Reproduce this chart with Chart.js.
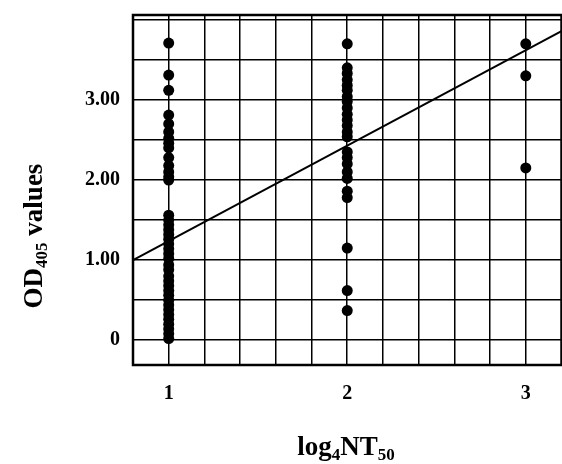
<!DOCTYPE html>
<html>
<head>
<meta charset="utf-8">
<script src="https://cdn.jsdelivr.net/npm/chart.js@4.4.1/dist/chart.umd.min.js"></script>
<style>
  html, body { margin: 0; padding: 0; background: #fff; overflow: hidden; }
  canvas { display: block; }
</style>
</head>
<body>
<canvas id="c" width="564" height="464"></canvas>
<script>
// ---- data ----
const groupX = [1, 2, 3];
const group1Values = [3.71, 3.31, 3.12, 2.81, 2.70, 2.60, 2.52, 2.46, 2.40, 2.28, 2.18, 2.10, 2.04, 2.00,
  1.56, 1.50, 1.44, 1.38, 1.32, 1.26, 1.20, 1.14, 1.08, 1.02, 0.94, 0.88, 0.80, 0.74, 0.68, 0.62,
  0.56, 0.50, 0.44, 0.38, 0.32, 0.26, 0.20, 0.14, 0.08, 0.02];
const group2Values = [3.70, 3.40, 3.33, 3.25, 3.18, 3.12, 3.04, 2.98, 2.90, 2.82, 2.75, 2.68, 2.60, 2.54,
  2.35, 2.28, 2.20, 2.10, 2.02, 1.86, 1.78, 1.15, 0.62, 0.37];
const group3Values = [3.70, 3.30, 2.15];
const fitLineX = [0.8, 3.2];
const fitLineY = [1.00, 3.86];
const xTickValues = [1, 2, 3];
const xTickLabels = ["1", "2", "3"];
const yTickValues = [0, 1, 2, 3];
const yTickLabels = ["0", "1.00", "2.00", "3.00"];
const xAxisTitle = [["log", false], ["4", true], ["NT", false], ["50", true]];
const yAxisTitle = [["OD", false], ["405", true], [" values", false]];

const FONT = "'Liberation Serif', 'Times New Roman', serif";

function toPoints(x, vals) { return vals.map(v => ({ x: x, y: v })); }
const allGroups = [group1Values, group2Values, group3Values];
const scatterPoints = [];
allGroups.forEach((vals, i) => scatterPoints.push(...toPoints(groupX[i], vals)));
const fitPoints = fitLineX.map((x, i) => ({ x: x, y: fitLineY[i] }));

function labelFor(values, labels, v) {
  for (let i = 0; i < values.length; i++) if (Math.abs(values[i] - v) < 1e-6) return labels[i];
  return "";
}

function drawRichText(ctx, parts, size, subSize, subDrop) {
  let total = 0;
  parts.forEach(([t, sub]) => {
    ctx.font = "bold " + (sub ? subSize : size) + "px " + FONT;
    total += ctx.measureText(t).width;
  });
  let x = -total / 2;
  parts.forEach(([t, sub]) => {
    ctx.font = "bold " + (sub ? subSize : size) + "px " + FONT;
    ctx.fillText(t, x, sub ? subDrop : 0);
    x += ctx.measureText(t).width;
  });
}

function zeroPadding(scale) {
  scale.paddingLeft = 0; scale.paddingRight = 0;
  scale.paddingTop = 0; scale.paddingBottom = 0;
}

const framePlugin = {
  id: 'frame',
  afterDatasetsDraw(chart) {
    const { ctx, chartArea: a } = chart;
    ctx.save();
    ctx.strokeStyle = '#000';
    ctx.lineWidth = 2.5;
    ctx.strokeRect(a.left, a.top, a.right - a.left, a.bottom - a.top);
    ctx.restore();
  },
  afterDraw(chart) {
    const ctx = chart.ctx;
    ctx.save();
    ctx.fillStyle = '#000';
    ctx.textBaseline = 'alphabetic';
    ctx.textAlign = 'left';
    ctx.save();
    ctx.translate(346, 455);
    drawRichText(ctx, xAxisTitle, 27, 17, 5);
    ctx.restore();
    ctx.save();
    ctx.translate(42, 236);
    ctx.rotate(-Math.PI / 2);
    drawRichText(ctx, yAxisTitle, 27, 17, 5);
    ctx.restore();
    ctx.restore();
  }
};

new Chart(document.getElementById('c'), {
  type: 'scatter',
  data: {
    datasets: [
      {
        data: scatterPoints,
        pointRadius: 5.5,
        pointBackgroundColor: '#000',
        pointBorderWidth: 0,
        showLine: false
      },
      {
        type: 'line',
        data: fitPoints,
        borderColor: '#000',
        borderWidth: 2,
        pointRadius: 0,
        fill: false,
        tension: 0
      }
    ]
  },
  options: {
    responsive: false,
    animation: false,
    devicePixelRatio: 1,
    layout: { autoPadding: false, padding: { left: 0, top: 15, right: 2.5, bottom: 0 } },
    plugins: { legend: { display: false }, tooltip: { enabled: false } },
    scales: {
      x: {
        type: 'linear',
        min: 0.8,
        max: 3.2,
        afterBuildTicks(scale) {
          const t = [];
          for (let i = 0; i <= 12; i++) t.push({ value: Math.round((0.8 + i * 0.2) * 10) / 10 });
          scale.ticks = t;
        },
        afterFit(scale) { scale.height = 99; zeroPadding(scale); },
        grid: { color: '#000', lineWidth: 1.5, drawTicks: false },
        border: { display: false },
        ticks: {
          autoSkip: false,
          maxRotation: 0,
          padding: 17,
          color: '#000',
          font: { family: FONT, size: 20, weight: 'bold' },
          callback: v => labelFor(xTickValues, xTickLabels, v)
        }
      },
      y: {
        type: 'linear',
        min: -0.31,
        max: 4.06,
        afterBuildTicks(scale) {
          const t = [];
          for (let i = 0; i <= 8; i++) t.push({ value: i * 0.5 });
          scale.ticks = t;
        },
        afterFit(scale) { scale.width = 133; zeroPadding(scale); },
        grid: { color: '#000', lineWidth: 1.5, drawTicks: false },
        border: { display: false },
        ticks: {
          autoSkip: false,
          padding: 13,
          color: '#000',
          font: { family: FONT, size: 20, weight: 'bold' },
          callback: v => labelFor(yTickValues, yTickLabels, v)
        }
      }
    }
  },
  plugins: [framePlugin]
});
</script>
</body>
</html>
